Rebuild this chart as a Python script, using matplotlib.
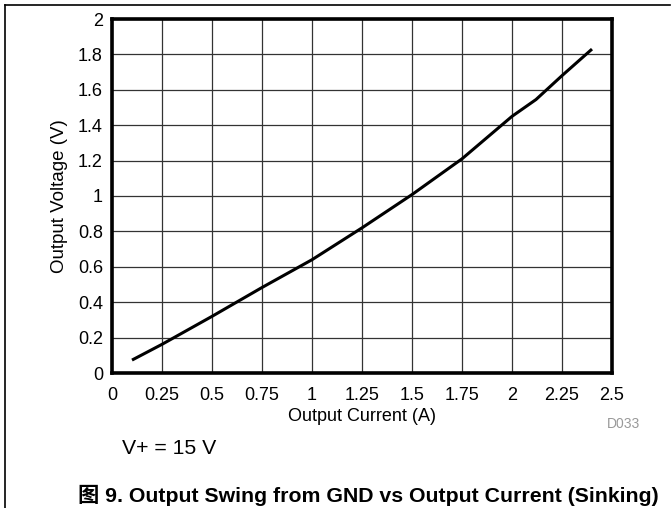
import matplotlib
matplotlib.use('Agg')
import matplotlib.pyplot as plt
from matplotlib.lines import Line2D

# Output swing from GND vs output current (sinking), V+ = 15 V
current = [0.1, 0.25, 0.5, 0.75, 1.0, 1.25, 1.5, 1.75, 2.0, 2.12, 2.25, 2.4]
voltage = [0.073, 0.162, 0.32, 0.483, 0.64, 0.82, 1.008, 1.21, 1.45, 1.545, 1.68, 1.83]

x_ticks = [0, 0.25, 0.5, 0.75, 1, 1.25, 1.5, 1.75, 2, 2.25, 2.5]
x_tick_labels = ['0', '0.25', '0.5', '0.75', '1', '1.25', '1.5', '1.75', '2', '2.25', '2.5']
y_ticks = [0, 0.2, 0.4, 0.6, 0.8, 1, 1.2, 1.4, 1.6, 1.8, 2]
y_tick_labels = ['0', '0.2', '0.4', '0.6', '0.8', '1', '1.2', '1.4', '1.6', '1.8', '2']

plt.rcParams['font.family'] = ['Liberation Sans', 'Noto Sans CJK SC', 'DejaVu Sans']

W, H = 671, 508
fig = plt.figure(figsize=(W / 100, H / 100), dpi=100)
ax = fig.add_axes([112 / W, 1 - 373 / H, 500 / W, 354 / H])

ax.plot(current, voltage, color='black', linewidth=2.2, solid_capstyle='butt')

ax.set_xlim(0, 2.5)
ax.set_ylim(0, 2)
ax.set_xticks(x_ticks)
ax.set_xticklabels(x_tick_labels)
ax.set_yticks(y_ticks)
ax.set_yticklabels(y_tick_labels)
ax.tick_params(length=0, labelsize=13)
ax.tick_params(axis='x', pad=10)
ax.tick_params(axis='y', pad=6.5)
ax.grid(True, color='#333333', linewidth=0.9)
ax.set_axisbelow(True)
for s in ax.spines.values():
    s.set_linewidth(2.6)
    s.set_color('black')

ax.set_xlabel('Output Current (A)', fontsize=13, labelpad=3)
ax.set_ylabel('Output Voltage (V)', fontsize=13.5, labelpad=7)

# page frame lines
fig.add_artist(Line2D([5 / W, 670 / W], [1 - 5 / H, 1 - 5 / H], color='black', linewidth=1.2))
fig.add_artist(Line2D([5 / W, 5 / W], [0, 1 - 5 / H], color='black', linewidth=1.2))

fig.text(623 / W, 1 - 424 / H, 'D033', color='#999999', fontsize=10, ha='center', va='center')
fig.text(122 / W, 1 - 448 / H, 'V+ = 15 V', fontsize=15.3, ha='left', va='center')
fig.text(78 / W, 1 - 495 / H, '图 9. Output Swing from GND vs Output Current (Sinking)',
         fontsize=15.3, fontweight='bold', ha='left', va='center')

fig.savefig('out.png', dpi=100)
